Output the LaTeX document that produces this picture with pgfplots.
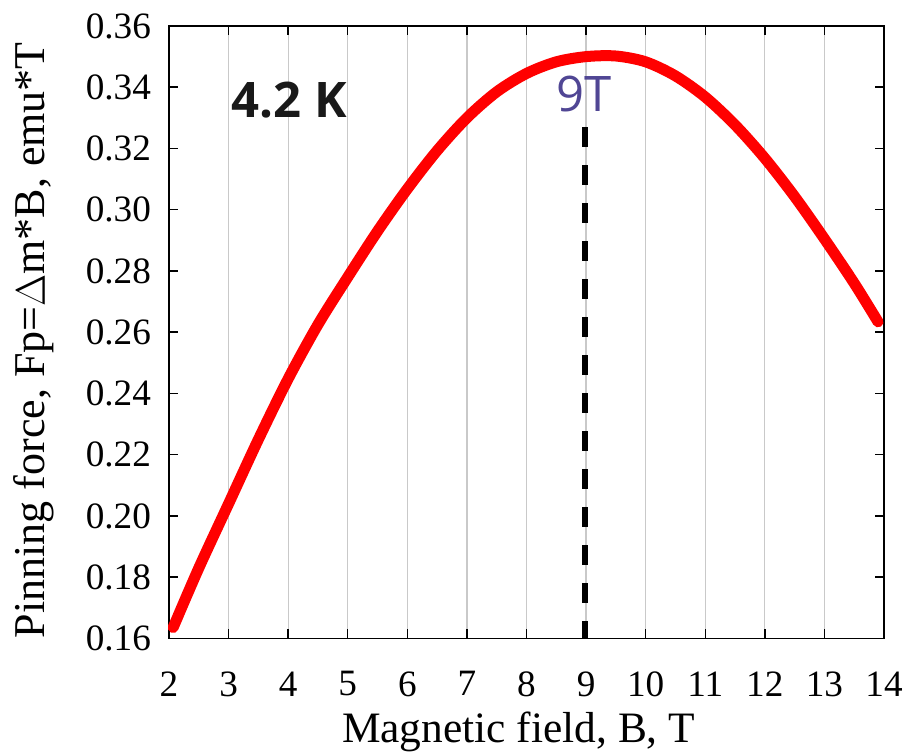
\documentclass[border=0pt]{standalone}
\usepackage{fontspec}
\setmainfont{Liberation Serif}
\newfontfamily\timesf{Liberation Serif}
\newfontfamily\opensans{Open Sans}
\usepackage{pgfplots}
\pgfplotsset{compat=1.18}
\definecolor{labpurple}{RGB}{80,70,148}
\begin{document}
\begin{tikzpicture}
\path[use as bounding box] (-84.5pt,-58.25pt) rectangle (368.5pt,319.25pt);
\begin{axis}[
  at={(0,0)}, anchor=south west,
  scale only axis, width=357.5pt, height=306.25pt,
  xmin=2, xmax=14, ymin=0.16, ymax=0.36,
  xtick={2,3,4,5,6,7,8,9,10,11,12,13,14},
  xticklabels={2,3,4,5,6,7,8,9,10,11,12,13,14},
  ytick={0.16,0.18,0.20,0.22,0.24,0.26,0.28,0.30,0.32,0.34,0.36},
  yticklabels={0.16,0.18,0.20,0.22,0.24,0.26,0.28,0.30,0.32,0.34,0.36},
  y tick label style={xshift=-5.5pt},
  tick label style={font=\timesf\fontsize{18.6}{20}\selectfont},
  x tick label style={yshift=-13pt},
  tick align=inside,
  major tick length=4.5pt,
  every tick/.style={black, line width=0.75pt},
  axis line style={black, line width=0.75pt},
  xmajorgrids,
  major grid style={gray!42, line width=0.65pt},
  xlabel={Magnetic field, B, T},
  ylabel={Pinning force, Fp=$\Delta$m*B, emu*T},
  every axis x label/.style={at={(axis description cs:0.489,0)}, anchor=base, yshift=-52.25pt, font=\timesf\fontsize{21.7}{24}\selectfont},
  every axis y label/.style={at={(axis description cs:0,0.487)}, xshift=-62pt, rotate=90, anchor=base, font=\timesf\fontsize{22}{24}\selectfont},
  clip=false,
]
\addplot[red, line width=5.5pt, line cap=round, smooth] coordinates {
(2.07,0.1636) (2.5,0.1830) (3,0.2040) (3.5,0.2250) (4,0.2448) (4.5,0.2625)
(5,0.2780) (5.5,0.2930) (6,0.3068) (6.5,0.3193) (7,0.3300) (7.5,0.3385)
(8,0.3445) (8.5,0.3483) (9,0.3500) (9.5,0.3502) (10,0.3483) (10.5,0.3437)
(11,0.3368) (11.5,0.3277) (12,0.3168) (12.5,0.3043) (13,0.2905) (13.5,0.2760) (13.9,0.2634)
};
\addplot[black, line width=3pt, dash pattern=on 10pt off 9pt] coordinates {(8.98,0.327) (8.98,0.16)};
\node[font={\opensans\bfseries\fontsize{24.5}{26}\selectfont}, text=black!90, inner sep=0pt] at (axis cs:4.014,0.3358) {4.2 K};
\node[font={\opensans\fontsize{24.5}{26}\selectfont}, text=labpurple, inner sep=0pt] at (axis cs:8.966,0.3378) {9T};
\end{axis}
\end{tikzpicture}
\end{document}
